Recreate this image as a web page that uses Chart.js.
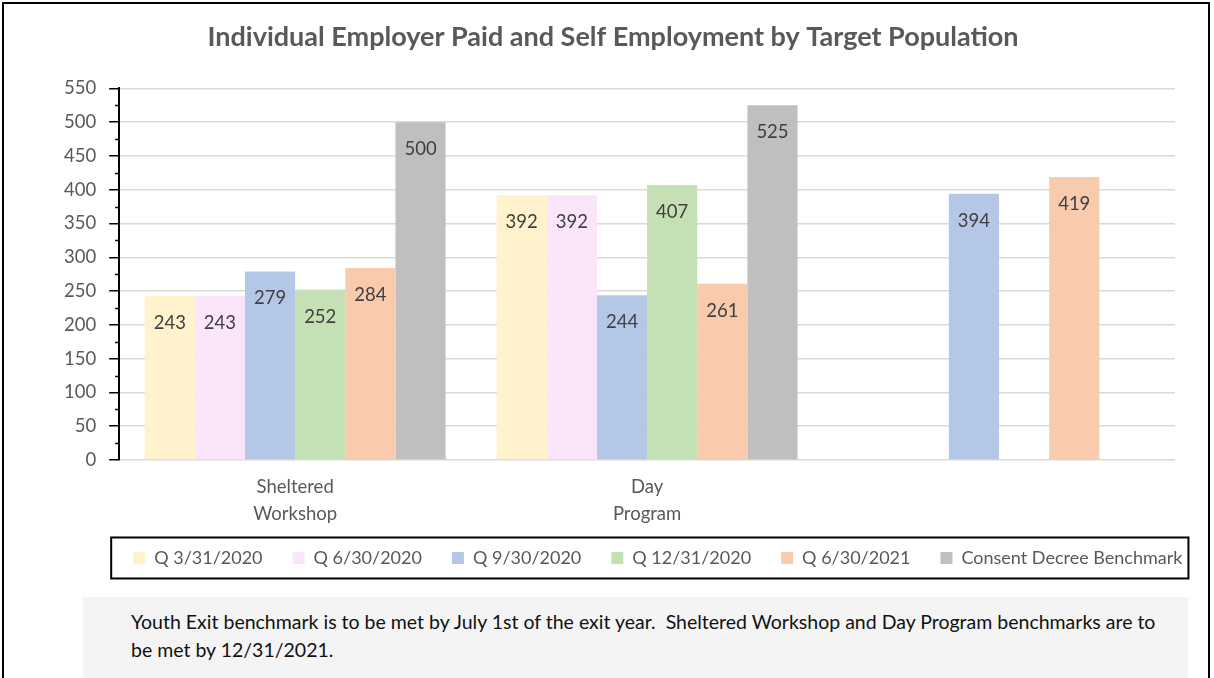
<!DOCTYPE html>
<html>
<head>
<meta charset="utf-8">
<script src="https://cdn.jsdelivr.net/npm/chart.js@4"></script>
<style>
  body { margin: 0; background: #fff; }
  #wrap { position: relative; width: 1214px; height: 678px; overflow: hidden; }
  #frame { position: absolute; left: 2px; top: 2px; width: 1208px; height: 700px;
           box-sizing: border-box; border: 2px solid #000; border-bottom: none; }
  #chartBox { position: absolute; left: 0; top: 0; width: 1214px; height: 602px; }
  #note { position: absolute; left: 83px; top: 597px; width: 1105px; height: 100px;
          background: #f4f4f4; box-sizing: border-box; padding: 11px 0 0 48px;
          font-family: Lato, sans-serif; font-size: 19.5px; line-height: 28px; color: #111; }
</style>
</head>
<body>
<div id="wrap">
  <div id="frame"></div>
  <div id="chartBox"><canvas id="empChart"></canvas></div>
  <div id="note">Youth Exit benchmark is to be met by July 1st of the exit year.&nbsp; Sheltered Workshop and Day Program benchmarks are to<br>be met by 12/31/2021.</div>
</div>
<script>
// data
const categories = [['Sheltered', 'Workshop'], ['Day', 'Program'], ''];
const q2020_03 = [243, 392, null];
const q2020_06 = [243, 392, null];
const q2020_09 = [279, 244, 394];
const q2020_12 = [252, 407, null];
const q2021_06 = [284, 261, 419];
const benchmark = [500, 525, null];

const FONT = 'Lato, sans-serif';

// value labels inside the top of each bar
const barLabels = {
    id: 'barLabels',
    afterDatasetsDraw(chart) {
        const ctx = chart.ctx;
        ctx.save();
        ctx.font = '18.5px ' + FONT;
        ctx.fillStyle = '#404040';
        ctx.textAlign = 'center';
        ctx.textBaseline = 'middle';
        chart.data.datasets.forEach((ds, i) => {
            chart.getDatasetMeta(i).data.forEach((bar, j) => {
                if (ds.data[j] == null) return;
                ctx.fillText(ds.data[j], bar.x, bar.y + 27);
            });
        });
        ctx.restore();
    }
};

// move legend under the plot like the excel one, minor ticks, legend border
const extras = {
    id: 'extras',
    afterUpdate(chart) {
        const lg = chart.legend;
        const hb = lg.legendHitBoxes;
        if (!hb || !hb.length) return;
        const dx = chart.chartArea.left + 14 - hb[0].left;
        const dy = chart.chartArea.bottom + 89 - hb[0].top;
        lg.left += dx; lg.right += dx;
        lg.top += dy; lg.bottom += dy;
        hb.forEach(b => { b.left += dx; b.top += dy; });
    },
    afterDraw(chart) {
        const ctx = chart.ctx;
        const y = chart.scales.y;
        ctx.save();
        ctx.strokeStyle = '#000';
        ctx.lineWidth = 1.5;
        for (let v = 25; v < 550; v += 50) {
            const py = Math.round(y.getPixelForValue(v)) + 0.5;
            ctx.beginPath();
            ctx.moveTo(y.right - 4, py);
            ctx.lineTo(y.right, py);
            ctx.stroke();
        }
        const boxes = chart.legend.legendHitBoxes;
        if (boxes && boxes.length) {
            const l = Math.min(...boxes.map(b => b.left)) - 22;
            const r = Math.max(...boxes.map(b => b.left + b.width)) + 6;
            const t = boxes[0].top - 11.5;
            const b = boxes[0].top + boxes[0].height + 11.5;
            ctx.lineWidth = 2;
            ctx.strokeRect(l, t, r - l, b - t);
        }
        ctx.restore();
    }
};

const makeSet = (label, data, color) => ({
    label: label, data: data, backgroundColor: color, borderWidth: 0
});

new Chart(document.getElementById('empChart'), {
    type: 'bar',
    data: {
        labels: categories,
        datasets: [
            makeSet('Q 3/31/2020', q2020_03, '#fff2cc'),
            makeSet('Q 6/30/2020', q2020_06, '#fbe5fb'),
            makeSet('Q 9/30/2020', q2020_09, '#b4c7e7'),
            makeSet('Q 12/31/2020', q2020_12, '#c5e0b4'),
            makeSet('Q 6/30/2021', q2021_06, '#f8cbad'),
            makeSet('Consent Decree Benchmark', benchmark, '#bfbfbf')
        ]
    },
    options: {
        responsive: true,
        maintainAspectRatio: false,
        animation: false,
        datasets: { bar: { barPercentage: 1, categoryPercentage: 0.855 } },
        layout: { padding: { left: 51, right: 39, top: 0, bottom: 10 } },
        plugins: {
            title: {
                display: true,
                text: 'Individual Employer Paid and Self Employment by Target Population',
                color: '#595959',
                font: { family: FONT, size: 27, weight: 'bold' },
                padding: { top: 21, bottom: 35 }
            },
            legend: {
                position: 'bottom',
                labels: {
                    boxWidth: 12, boxHeight: 12, padding: 30,
                    color: '#595959',
                    font: { family: FONT, size: 18 }
                }
            },
            tooltip: { enabled: false }
        },
        scales: {
            x: {
                grid: { display: false },
                border: { display: false },
                ticks: {
                    color: '#595959', padding: 6,
                    font: { family: FONT, size: 18.5, lineHeight: 1.46 }
                }
            },
            y: {
                min: 0, max: 550,
                ticks: {
                    stepSize: 50, color: '#595959', padding: 13,
                    font: { family: FONT, size: 18.5 }
                },
                grid: { color: '#d9d9d9', lineWidth: 1.5, tickColor: '#000', tickLength: 10 },
                border: { color: '#000', width: 2 }
            }
        }
    },
    plugins: [barLabels, extras]
});
</script>
</body>
</html>
